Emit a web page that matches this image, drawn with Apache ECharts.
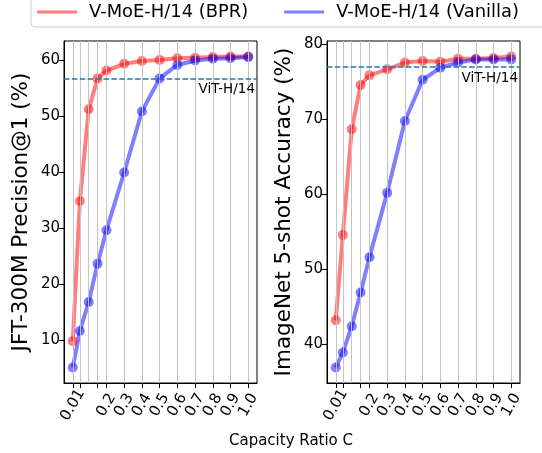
<!DOCTYPE html>
<html>
<head>
<meta charset="utf-8">
<script src="https://cdn.jsdelivr.net/npm/echarts@6/dist/echarts.min.js"></script>
<style>html,body{margin:0;padding:0;background:#fff}#c{width:542px;height:453px}</style>
</head>
<body>
<div id="c"></div>
<script>
// ---- data ----
const capacity = [0.01, 0.05, 0.1, 0.15, 0.2, 0.3, 0.4, 0.5, 0.6, 0.7, 0.8, 0.9, 1.0];
const xLabelValues = [0.01, 0.1, 0.2, 0.3, 0.4, 0.5, 0.6, 0.7, 0.8, 0.9, 1.0];
const xTickLabels = ['0.01', '0.1', '0.2', '0.3', '0.4', '0.5', '0.6', '0.7', '0.8', '0.9', '1.0'];
const jftBPR = [9.8, 34.8, 51.2, 56.7, 58.1, 59.3, 59.8, 60.0, 60.3, 60.4, 60.5, 60.6, 60.6];
const jftVanilla = [5.1, 11.6, 16.8, 23.6, 29.6, 39.9, 50.8, 56.7, 59.1, 59.9, 60.2, 60.3, 60.5];
const inBPR = [43.2, 54.6, 68.7, 74.6, 75.9, 76.7, 77.6, 77.8, 77.7, 78.1, 78.1, 78.2, 78.4];
const inVanilla = [36.9, 38.9, 42.4, 46.9, 51.6, 60.2, 69.8, 75.3, 76.9, 77.6, 78.0, 78.0, 78.0];
const vitJFT = 56.6;
const vitIN = 77.0;
const jftYTicks = [10, 20, 30, 40, 50, 60];
const inYTicks = [40, 50, 60, 70, 80];
const seriesNames = ['V-MoE-H/14 (BPR)', 'V-MoE-H/14 (Vanilla)'];
const refName = 'ViT-H/14';
const xTitle = 'Capacity Ratio C';
const yTitles = ['JFT-300M Precision@1 (%)', 'ImageNet 5-shot Accuracy (%)'];

// ---- helpers ----
const FONT = 'DejaVu Sans';
function pad(arrs) {
  const all = [].concat(...arrs);
  const lo = Math.min(...all), hi = Math.max(...all), m = (hi - lo) * 0.05;
  return [lo - m, hi + m];
}
const xr = pad([capacity]);
const zip = (xs, ys) => xs.map((x, i) => [x, ys[i]]);
const RED = 'rgba(255,0,0,0.5)', BLUE = 'rgba(0,0,255,0.5)';

function xAxis(gi) {
  return {
    type: 'value', gridIndex: gi, min: xr[0], max: xr[1],
    splitLine: { show: false },
    axisLine: { show: true, onZero: false, lineStyle: { color: '#000', width: 1 } },
    axisTick: { show: true, customValues: capacity, length: 5, lineStyle: { color: '#000' } },
    axisLabel: {
      customValues: xLabelValues, rotate: 60, align: 'center', verticalAlign: 'middle', margin: 22,
      showMinLabel: true, showMaxLabel: true, hideOverlap: false,
      fontFamily: FONT, fontSize: 15, color: '#000',
      formatter: v => { const i = xLabelValues.findIndex(t => Math.abs(t - v) < 1e-9); return i >= 0 ? xTickLabels[i] : ''; }
    }
  };
}
function yAxis(gi, ticks, range, name) {
  return {
    type: 'value', gridIndex: gi, min: range[0], max: range[1],
    name: name, nameLocation: 'middle', nameGap: 32,
    nameTextStyle: { fontFamily: FONT, fontSize: 21.5, color: '#000' },
    splitLine: { show: false },
    axisLine: { show: true, onZero: false, lineStyle: { color: '#000', width: 1 } },
    axisTick: { show: true, customValues: ticks, length: 5, lineStyle: { color: '#000' } },
    axisLabel: { customValues: ticks, showMinLabel: true, showMaxLabel: true, fontFamily: FONT, fontSize: 15, color: '#000', margin: 4 }
  };
}
function gridLines(gi) {
  return {
    type: 'line', xAxisIndex: gi, yAxisIndex: gi, data: [], silent: true, z: 1,
    markLine: {
      silent: true, symbol: 'none', animation: false,
      label: { show: false },
      lineStyle: { color: '#c4c4c4', width: 1, type: 'solid' },
      data: capacity.map(v => ({ xAxis: v }))
    }
  };
}
function lineSeries(gi, name, color, ys, ref) {
  const s = {
    type: 'line', name: name, xAxisIndex: gi, yAxisIndex: gi, data: zip(capacity, ys),
    color: color, symbol: 'circle', symbolSize: 10, showSymbol: true,
    lineStyle: { color: color, width: 4 }, itemStyle: { color: color },
    animation: false, z: 3
  };
  if (ref !== undefined) {
    s.markLine = {
      silent: true, symbol: 'none', animation: false,
      lineStyle: { color: '#1f77b4', width: 1.5, type: [5.5, 2.4] },
      label: { show: true, position: 'insideEndBottom', formatter: refName, fontFamily: FONT, fontSize: 13.5, color: '#000', distance: [2, 4] },
      data: [{ yAxis: ref }]
    };
  }
  return s;
}

const chart = echarts.init(document.getElementById('c'), null, { renderer: 'canvas' });
chart.setOption({
  animation: false,
  backgroundColor: '#fff',
  grid: [
    { left: 64, right: 285, top: 41, bottom: 70, show: true, borderColor: '#000', borderWidth: 1, containLabel: false },
    { left: 327, right: 22, top: 41, bottom: 70, show: true, borderColor: '#000', borderWidth: 1, containLabel: false }
  ],
  legend: {
    orient: 'horizontal', left: 31, top: -14, width: 700, padding: [17, 60, 6, 6],
    data: seriesNames.map(n => ({ name: n, icon: 'rect' })),
    itemWidth: 40, itemHeight: 3, itemGap: 36,
    textStyle: { fontFamily: FONT, fontSize: 17.9, color: '#000', padding: [0, 0, 0, 7] },
    borderColor: '#cccccc', borderWidth: 1, borderRadius: 4, backgroundColor: '#fff'
  },
  graphic: [{
    type: 'text', x: 291, y: 441,
    style: { text: xTitle, font: '15px "DejaVu Sans"', fill: '#000', textAlign: 'center', textVerticalAlign: 'middle' }
  }],
  xAxis: [xAxis(0), xAxis(1)],
  yAxis: [yAxis(0, jftYTicks, pad([jftBPR, jftVanilla]), yTitles[0]), yAxis(1, inYTicks, pad([inBPR, inVanilla]), yTitles[1])],
  series: [
    gridLines(0), gridLines(1),
    lineSeries(0, seriesNames[0], RED, jftBPR, vitJFT),
    lineSeries(0, seriesNames[1], BLUE, jftVanilla),
    lineSeries(1, seriesNames[0], RED, inBPR, vitIN),
    lineSeries(1, seriesNames[1], BLUE, inVanilla)
  ]
});
</script>
</body>
</html>
